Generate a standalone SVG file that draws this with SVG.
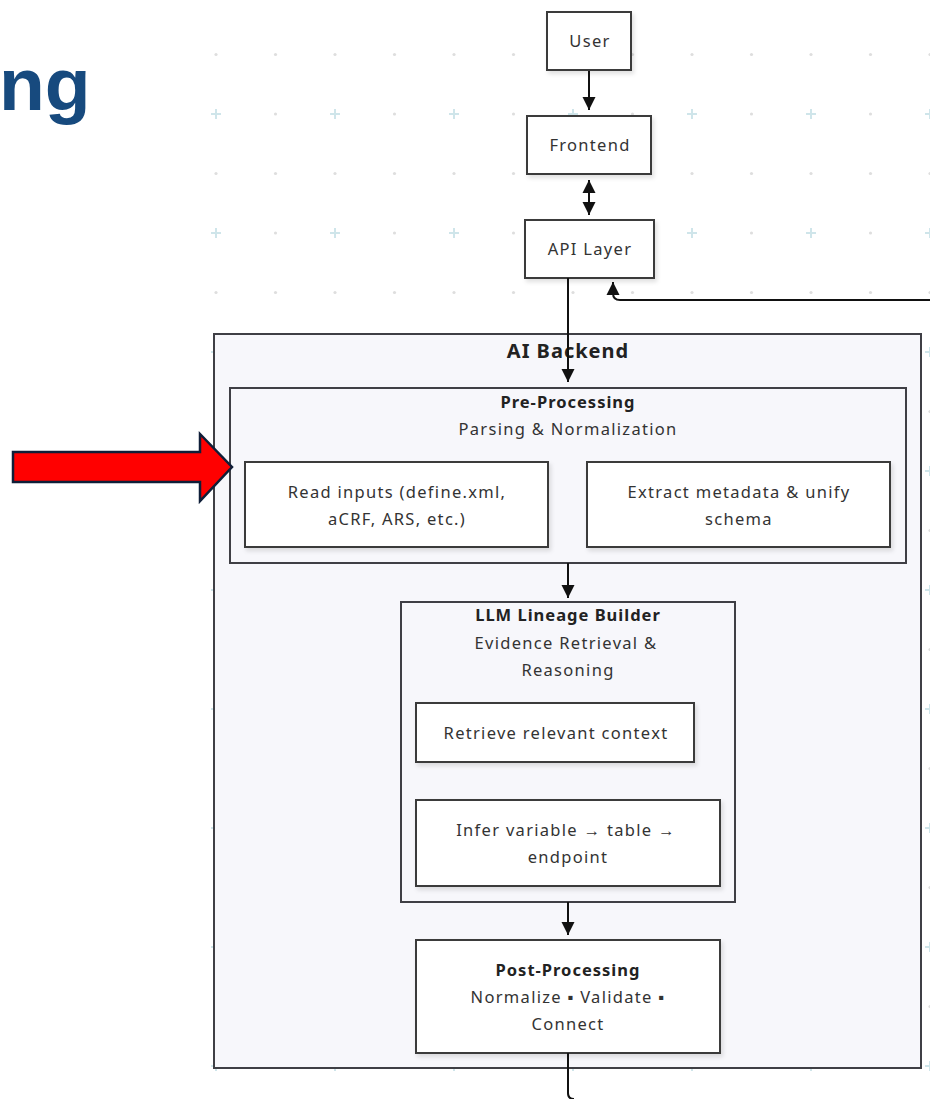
<svg xmlns="http://www.w3.org/2000/svg" width="930" height="1099" viewBox="0 0 930 1099">
<defs>
<pattern id="grid" x="186" y="84" width="119" height="119" patternUnits="userSpaceOnUse">
<path d="M25,30 H35 M30,25 V35" stroke="#cfe5ea" stroke-width="2"/>
<circle cx="89.5" cy="30" r="1.6" fill="#dedede"/>
<circle cx="30" cy="89.5" r="1.6" fill="#dedede"/>
<circle cx="89.5" cy="89.5" r="1.6" fill="#dedede"/>
</pattern>
<filter id="sh" x="-10%" y="-10%" width="125%" height="130%">
<feDropShadow dx="2" dy="3" stdDeviation="2" flood-color="#000" flood-opacity="0.12"/>
</filter>
<marker id="ah" viewBox="0 0 10 10" refX="10" refY="5" markerWidth="13" markerHeight="14" markerUnits="userSpaceOnUse" orient="auto-start-reverse">
<path d="M0,0 L10,5 L0,10 z" fill="#111"/>
</marker>
<style>
.box{fill:#fff;stroke:#3a3a3a;stroke-width:2;filter:url(#sh)}
.grp{fill:#f7f7fb;stroke:#3f3f45;stroke-width:2}
.t{font-family:"Noto Sans","Open Sans",sans-serif;font-size:16.5px;letter-spacing:1.3px;fill:#333;text-anchor:middle}
.b{font-family:"Noto Sans","Open Sans",sans-serif;font-size:16.5px;letter-spacing:1px;font-weight:bold;fill:#222;text-anchor:middle}
.conn{fill:none;stroke:#111;stroke-width:2}
</style>
</defs>
<rect x="0" y="0" width="930" height="1099" fill="#fff"/>
<rect x="186" y="5" width="744" height="1094" fill="url(#grid)"/>
<text id="title" x="-1" y="110" font-family="Liberation Sans, Arial, sans-serif" font-size="75" font-weight="bold" fill="#174a7e">ng</text>

<g id="ai-backend">
<rect class="grp" x="214" y="334" width="707" height="734"/>
<text class="b" x="568" y="358" style="font-size:20px">AI Backend</text>
</g>

<g id="user">
<rect class="box" x="547" y="12" width="84" height="58"/>
<text class="t" x="590" y="47">User</text>
</g>
<g id="frontend">
<rect class="box" x="527" y="116" width="124" height="58"/>
<text class="t" x="590" y="151">Frontend</text>
</g>
<g id="api-layer">
<rect class="box" x="525" y="220" width="129" height="58"/>
<text class="t" x="590" y="255">API Layer</text>
</g>

<g id="pre-processing">
<rect class="grp" x="230" y="388" width="676" height="175"/>
<text class="b" x="568" y="408">Pre-Processing</text>
<text class="t" x="568" y="435">Parsing &amp; Normalization</text>
</g>
<g id="read-inputs">
<rect class="box" x="245" y="462" width="303" height="85"/>
<text class="t" x="397" y="498">Read inputs (define.xml,</text>
<text class="t" x="397" y="525">aCRF, ARS, etc.)</text>
</g>
<g id="extract-metadata">
<rect class="box" x="587" y="462" width="303" height="85"/>
<text class="t" x="739" y="498">Extract metadata &amp; unify</text>
<text class="t" x="739" y="525">schema</text>
</g>

<g id="llm-lineage-builder">
<rect class="grp" x="401" y="602" width="334" height="300"/>
<text class="b" x="568" y="621">LLM Lineage Builder</text>
<text class="t" x="566" y="649">Evidence Retrieval &amp;</text>
<text class="t" x="568" y="676">Reasoning</text>
</g>
<g id="retrieve-context">
<rect class="box" x="416" y="703" width="278" height="59"/>
<text class="t" x="556" y="739">Retrieve relevant context</text>
</g>
<g id="infer-variable">
<rect class="box" x="416" y="800" width="304" height="86"/>
<text class="t" x="566" y="836">Infer variable → table →</text>
<text class="t" x="568" y="863">endpoint</text>
</g>

<g id="post-processing">
<rect class="box" x="416" y="940" width="304" height="113"/>
<text class="b" x="568" y="976">Post-Processing</text>
<text class="t" x="568" y="1003">Normalize ▪ Validate ▪</text>
<text class="t" x="568" y="1030">Connect</text>
</g>

<g id="connectors">
<path class="conn" d="M589,71 V110" marker-end="url(#ah)"/>
<path class="conn" d="M589,180 V215" marker-start="url(#ah)" marker-end="url(#ah)"/>
<path class="conn" d="M568,278 V382" marker-end="url(#ah)"/>
<path class="conn" d="M930,300 H620 Q613,300 613,293 V282" marker-end="url(#ah)"/>
<path class="conn" d="M568,563 V598" marker-end="url(#ah)"/>
<path class="conn" d="M568,902 V935" marker-end="url(#ah)"/>
<path class="conn" d="M568,1053 V1093 Q568,1099 574,1099"/>
</g>

<g id="red-arrow">
<path d="M13,452 H200 V434 L232,467 L200,501 V482 H13 Z" fill="#ff0000" stroke="#0f1e38" stroke-width="2.5" stroke-linejoin="miter"/>
</g>
</svg>
